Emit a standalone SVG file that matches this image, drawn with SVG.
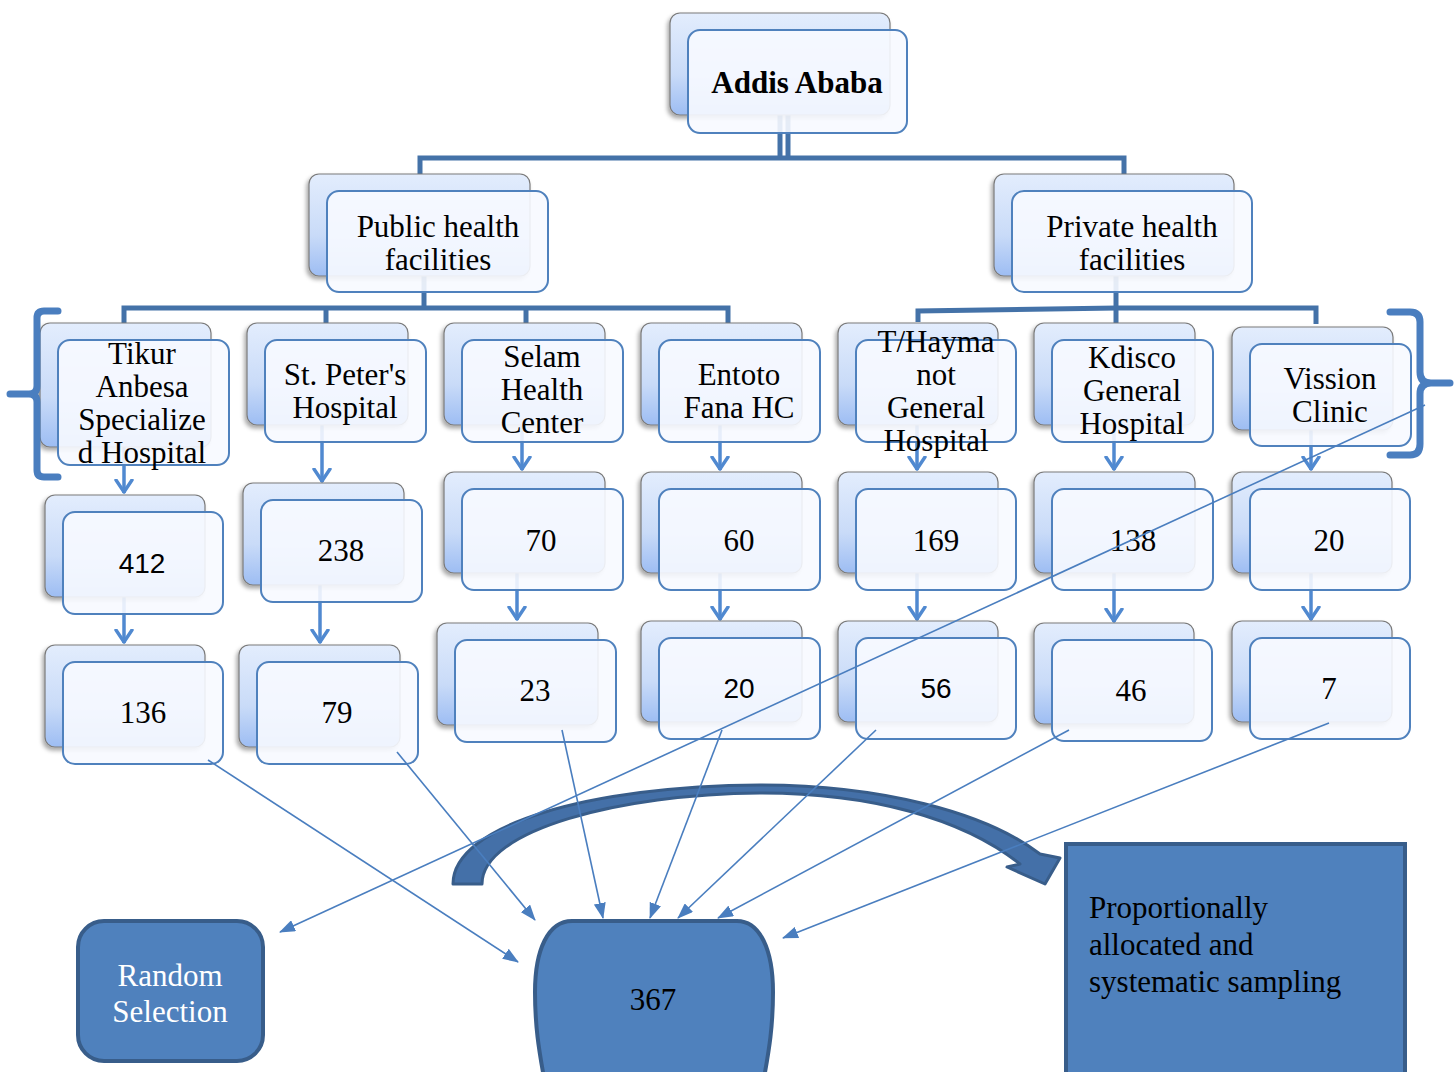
<svg xmlns="http://www.w3.org/2000/svg" width="1456" height="1072" viewBox="0 0 1456 1072">
<defs>
<linearGradient id="gb" x1="0" y1="0" x2="0" y2="1">
<stop offset="0" stop-color="#e3edfd"/>
<stop offset="0.6" stop-color="#c9dbf8"/>
<stop offset="1" stop-color="#9dbdf3"/>
</linearGradient>
<filter id="sh" x="-10%" y="-10%" width="120%" height="130%">
<feDropShadow dx="-2" dy="3" stdDeviation="2" flood-color="#000" flood-opacity="0.35"/>
</filter>
<marker id="va" viewBox="0 0 15 20" refX="14" refY="10" markerWidth="15" markerHeight="20" markerUnits="userSpaceOnUse" orient="auto">
<path d="M1,2 L13,10 L1,18" fill="none" stroke="#5089d0" stroke-width="3.4" stroke-linecap="round" stroke-linejoin="round"/>
</marker>
<marker id="ta" viewBox="0 0 16 12" refX="15" refY="6" markerWidth="16" markerHeight="12" markerUnits="userSpaceOnUse" orient="auto">
<path d="M0,0 L16,6 L0,12 Z" fill="#4a7ebf"/>
</marker>
<style>
.bk{fill:url(#gb);stroke:#7a7a7a;stroke-width:1.2;filter:url(#sh)}
.fr{fill:#f7f9ff;fill-opacity:0.9;stroke:#4f81bd;stroke-width:2}
.t{font-family:"Liberation Serif","Times New Roman",serif;font-size:31px;fill:#000;text-anchor:middle}
.s{font-family:"Liberation Sans",Arial,sans-serif;font-size:28px;fill:#000;text-anchor:middle}
.p{font-family:"Liberation Serif","Times New Roman",serif;font-size:31px;fill:#000}
.tree{stroke:#4472a8;stroke-width:5;fill:none}
.dn{stroke:#5089d0;stroke-width:3.5;fill:none;marker-end:url(#va)}
.ln{stroke:#4a7ebf;stroke-width:1.6;fill:none;marker-end:url(#ta)}
.blk{fill:#4f81bd;stroke:#385d8a;stroke-width:4}
.br{fill:none;stroke:#4a7ebf;stroke-width:7;stroke-linecap:round;stroke-linejoin:round}
</style>
</defs>
<rect width="1456" height="1072" fill="#fff"/>

<g id="connectors">
<line class="tree" x1="780" y1="115" x2="780" y2="160" stroke-width="4"/>
<line class="tree" x1="788" y1="115" x2="788" y2="160" stroke-width="4"/>
<polyline class="tree" points="420,176 420,158 1124,158 1124,176"/>
<line class="tree" x1="424" y1="276" x2="424" y2="309"/>
<polyline class="tree" points="124,324 124,308 728,308 728,324"/>
<line class="tree" x1="326" y1="308" x2="326" y2="324"/>
<line class="tree" x1="526" y1="308" x2="526" y2="324"/>
<line class="tree" x1="1116" y1="276" x2="1116" y2="324"/>
<polyline class="tree" points="918,322 918,311 1117,308 1316,308 1316,324"/>
<line class="dn" x1="124" y1="447" x2="124" y2="493"/>
<line class="dn" x1="322" y1="425" x2="322" y2="482"/>
<line class="dn" x1="522" y1="425" x2="522" y2="470"/>
<line class="dn" x1="720" y1="425" x2="720" y2="470"/>
<line class="dn" x1="917" y1="425" x2="917" y2="470"/>
<line class="dn" x1="1114" y1="425" x2="1114" y2="470"/>
<line class="dn" x1="1311" y1="430" x2="1311" y2="470"/>
<line class="dn" x1="124" y1="597" x2="124" y2="643"/>
<line class="dn" x1="320" y1="585" x2="320" y2="643"/>
<line class="dn" x1="517" y1="573" x2="517" y2="620"/>
<line class="dn" x1="720" y1="573" x2="720" y2="620"/>
<line class="dn" x1="917" y1="573" x2="917" y2="620"/>
<line class="dn" x1="1114" y1="573" x2="1114" y2="622"/>
<line class="dn" x1="1311" y1="573" x2="1311" y2="620"/>
</g>

<g id="n-addis"><rect class="bk" x="670" y="13" width="220" height="102" rx="10"/><rect class="fr" x="688" y="30" width="219" height="103" rx="12"/><text class="t" x="797" y="93" font-weight="bold">Addis Ababa</text></g>
<g id="n-public"><rect class="bk" x="309" y="174" width="221" height="102" rx="10"/><rect class="fr" x="327" y="191" width="221" height="101" rx="12"/><text class="t" x="438" y="237">Public health</text><text class="t" x="438" y="270">facilities</text></g>
<g id="n-private"><rect class="bk" x="994" y="174" width="240" height="102" rx="10"/><rect class="fr" x="1012" y="191" width="240" height="101" rx="12"/><text class="t" x="1132" y="237">Private health</text><text class="t" x="1132" y="270">facilities</text></g>

<g id="n-tikur"><rect class="bk" x="40" y="323" width="171" height="124" rx="10"/><rect class="fr" x="58" y="340" width="171" height="125" rx="12"/><text class="t" x="142" y="364">Tikur</text><text class="t" x="142" y="397">Anbesa</text><text class="t" x="142" y="430">Specialize</text><text class="t" x="142" y="463">d Hospital</text></g>
<g id="n-stpeter"><rect class="bk" x="247" y="323" width="161" height="102" rx="10"/><rect class="fr" x="265" y="340" width="161" height="102" rx="12"/><text class="t" x="345" y="385">St. Peter's</text><text class="t" x="345" y="418">Hospital</text></g>
<g id="n-selam"><rect class="bk" x="444" y="323" width="161" height="102" rx="10"/><rect class="fr" x="462" y="340" width="161" height="102" rx="12"/><text class="t" x="542" y="367">Selam</text><text class="t" x="542" y="400">Health</text><text class="t" x="542" y="433">Center</text></g>
<g id="n-entoto"><rect class="bk" x="641" y="323" width="161" height="102" rx="10"/><rect class="fr" x="659" y="340" width="161" height="102" rx="12"/><text class="t" x="739" y="385">Entoto</text><text class="t" x="739" y="418">Fana HC</text></g>
<g id="n-thayma"><rect class="bk" x="838" y="323" width="160" height="102" rx="10"/><rect class="fr" x="856" y="340" width="160" height="102" rx="12"/><text class="t" x="936" y="352">T/Hayma</text><text class="t" x="936" y="385">not</text><text class="t" x="936" y="418">General</text><text class="t" x="936" y="451">Hospital</text></g>
<g id="n-kdisco"><rect class="bk" x="1034" y="323" width="161" height="102" rx="10"/><rect class="fr" x="1052" y="340" width="161" height="102" rx="12"/><text class="t" x="1132" y="368">Kdisco</text><text class="t" x="1132" y="401">General</text><text class="t" x="1132" y="434">Hospital</text></g>
<g id="n-vission"><rect class="bk" x="1232" y="327" width="161" height="103" rx="10"/><rect class="fr" x="1250" y="344" width="161" height="102" rx="12"/><text class="t" x="1330" y="389">Vission</text><text class="t" x="1330" y="422">Clinic</text></g>

<g id="n-412"><rect class="bk" x="45" y="495" width="160" height="102" rx="10"/><rect class="fr" x="63" y="512" width="160" height="102" rx="12"/><text class="s" x="142" y="573">412</text></g>
<g id="n-238"><rect class="bk" x="243" y="483" width="161" height="102" rx="10"/><rect class="fr" x="261" y="500" width="161" height="102" rx="12"/><text class="t" x="341" y="561">238</text></g>
<g id="n-70"><rect class="bk" x="444" y="472" width="161" height="101" rx="10"/><rect class="fr" x="462" y="489" width="161" height="101" rx="12"/><text class="t" x="541" y="551">70</text></g>
<g id="n-60"><rect class="bk" x="641" y="472" width="161" height="101" rx="10"/><rect class="fr" x="659" y="489" width="161" height="101" rx="12"/><text class="t" x="739" y="551">60</text></g>
<g id="n-169"><rect class="bk" x="838" y="472" width="160" height="101" rx="10"/><rect class="fr" x="856" y="489" width="160" height="101" rx="12"/><text class="t" x="936" y="551">169</text></g>
<g id="n-138"><rect class="bk" x="1034" y="472" width="161" height="101" rx="10"/><rect class="fr" x="1052" y="489" width="161" height="101" rx="12"/><text class="t" x="1133" y="551">138</text></g>
<g id="n-20a"><rect class="bk" x="1232" y="472" width="160" height="101" rx="10"/><rect class="fr" x="1250" y="489" width="160" height="101" rx="12"/><text class="t" x="1329" y="551">20</text></g>

<g id="n-136"><rect class="bk" x="45" y="645" width="160" height="102" rx="10"/><rect class="fr" x="63" y="662" width="160" height="102" rx="12"/><text class="t" x="143" y="723">136</text></g>
<g id="n-79"><rect class="bk" x="239" y="645" width="161" height="102" rx="10"/><rect class="fr" x="257" y="662" width="161" height="102" rx="12"/><text class="t" x="337" y="723">79</text></g>
<g id="n-23"><rect class="bk" x="437" y="623" width="161" height="102" rx="10"/><rect class="fr" x="455" y="640" width="161" height="102" rx="12"/><text class="t" x="535" y="701">23</text></g>
<g id="n-20b"><rect class="bk" x="641" y="621" width="161" height="101" rx="10"/><rect class="fr" x="659" y="638" width="161" height="101" rx="12"/><text class="s" x="739" y="698">20</text></g>
<g id="n-56"><rect class="bk" x="838" y="621" width="160" height="101" rx="10"/><rect class="fr" x="856" y="638" width="160" height="101" rx="12"/><text class="s" x="936" y="698">56</text></g>
<g id="n-46"><rect class="bk" x="1034" y="623" width="160" height="101" rx="10"/><rect class="fr" x="1052" y="640" width="160" height="101" rx="12"/><text class="t" x="1131" y="701">46</text></g>
<g id="n-7"><rect class="bk" x="1232" y="621" width="160" height="101" rx="10"/><rect class="fr" x="1250" y="638" width="160" height="101" rx="12"/><text class="t" x="1329" y="699">7</text></g>

<g id="brackets">
<path class="br" d="M58,311 L44,311 Q37,311 37,318 L37,386 Q37,394 29,394 L10,394 M29,394 Q37,394 37,402 L37,470 Q37,477 44,477 L58,477"/>
<path class="br" d="M1390,312 L1410,312 Q1420,312 1420,322 L1420,372 Q1420,383 1431,383 L1450,383 M1431,383 Q1420,383 1420,394 L1420,444 Q1420,455 1410,455 L1390,455"/>
</g>

<g id="n-random"><rect class="blk" x="78" y="921" width="185" height="140" rx="26"/><text class="t" x="170" y="986" style="fill:#fff">Random</text><text class="t" x="170" y="1022" style="fill:#fff">Selection</text></g>
<g id="n-367"><path class="blk" d="M572,921 L737,921 C760,921 773,950 773,992 C773,1030 768,1055 764,1078 L544,1078 C540,1055 535,1030 535,992 C535,950 548,921 572,921 Z"/><text class="t" x="653" y="1010">367</text></g>
<g id="n-prop"><rect class="blk" x="1066" y="844" width="339" height="234"/><text class="p" x="1089" y="918">Proportionally</text><text class="p" x="1089" y="955">allocated and</text><text class="p" x="1089" y="992">systematic sampling</text></g>

<g id="curved-arrow">
<path d="M453,884 C453,825 590,786 760,785 C880,785 985,812 1040,854 L1060,858 L1045,884 L1007,867 L1020,864 C962,818 870,793 760,793 C620,794 482,830 482,884 Z" fill="#4470a8" stroke="#385d8a" stroke-width="3" stroke-linejoin="round"/>
</g>

<g id="sampling-lines">
<line class="ln" x1="208" y1="760" x2="518" y2="962"/>
<line class="ln" x1="397" y1="752" x2="535" y2="920"/>
<line class="ln" x1="562" y1="730" x2="603" y2="918"/>
<line class="ln" x1="722" y1="730" x2="650" y2="918"/>
<line class="ln" x1="876" y1="730" x2="678" y2="918"/>
<line class="ln" x1="1069" y1="730" x2="718" y2="918"/>
<line class="ln" x1="1329" y1="723" x2="783" y2="938"/>
<line class="ln" x1="1425" y1="405" x2="280" y2="932"/>
</g>
</svg>
